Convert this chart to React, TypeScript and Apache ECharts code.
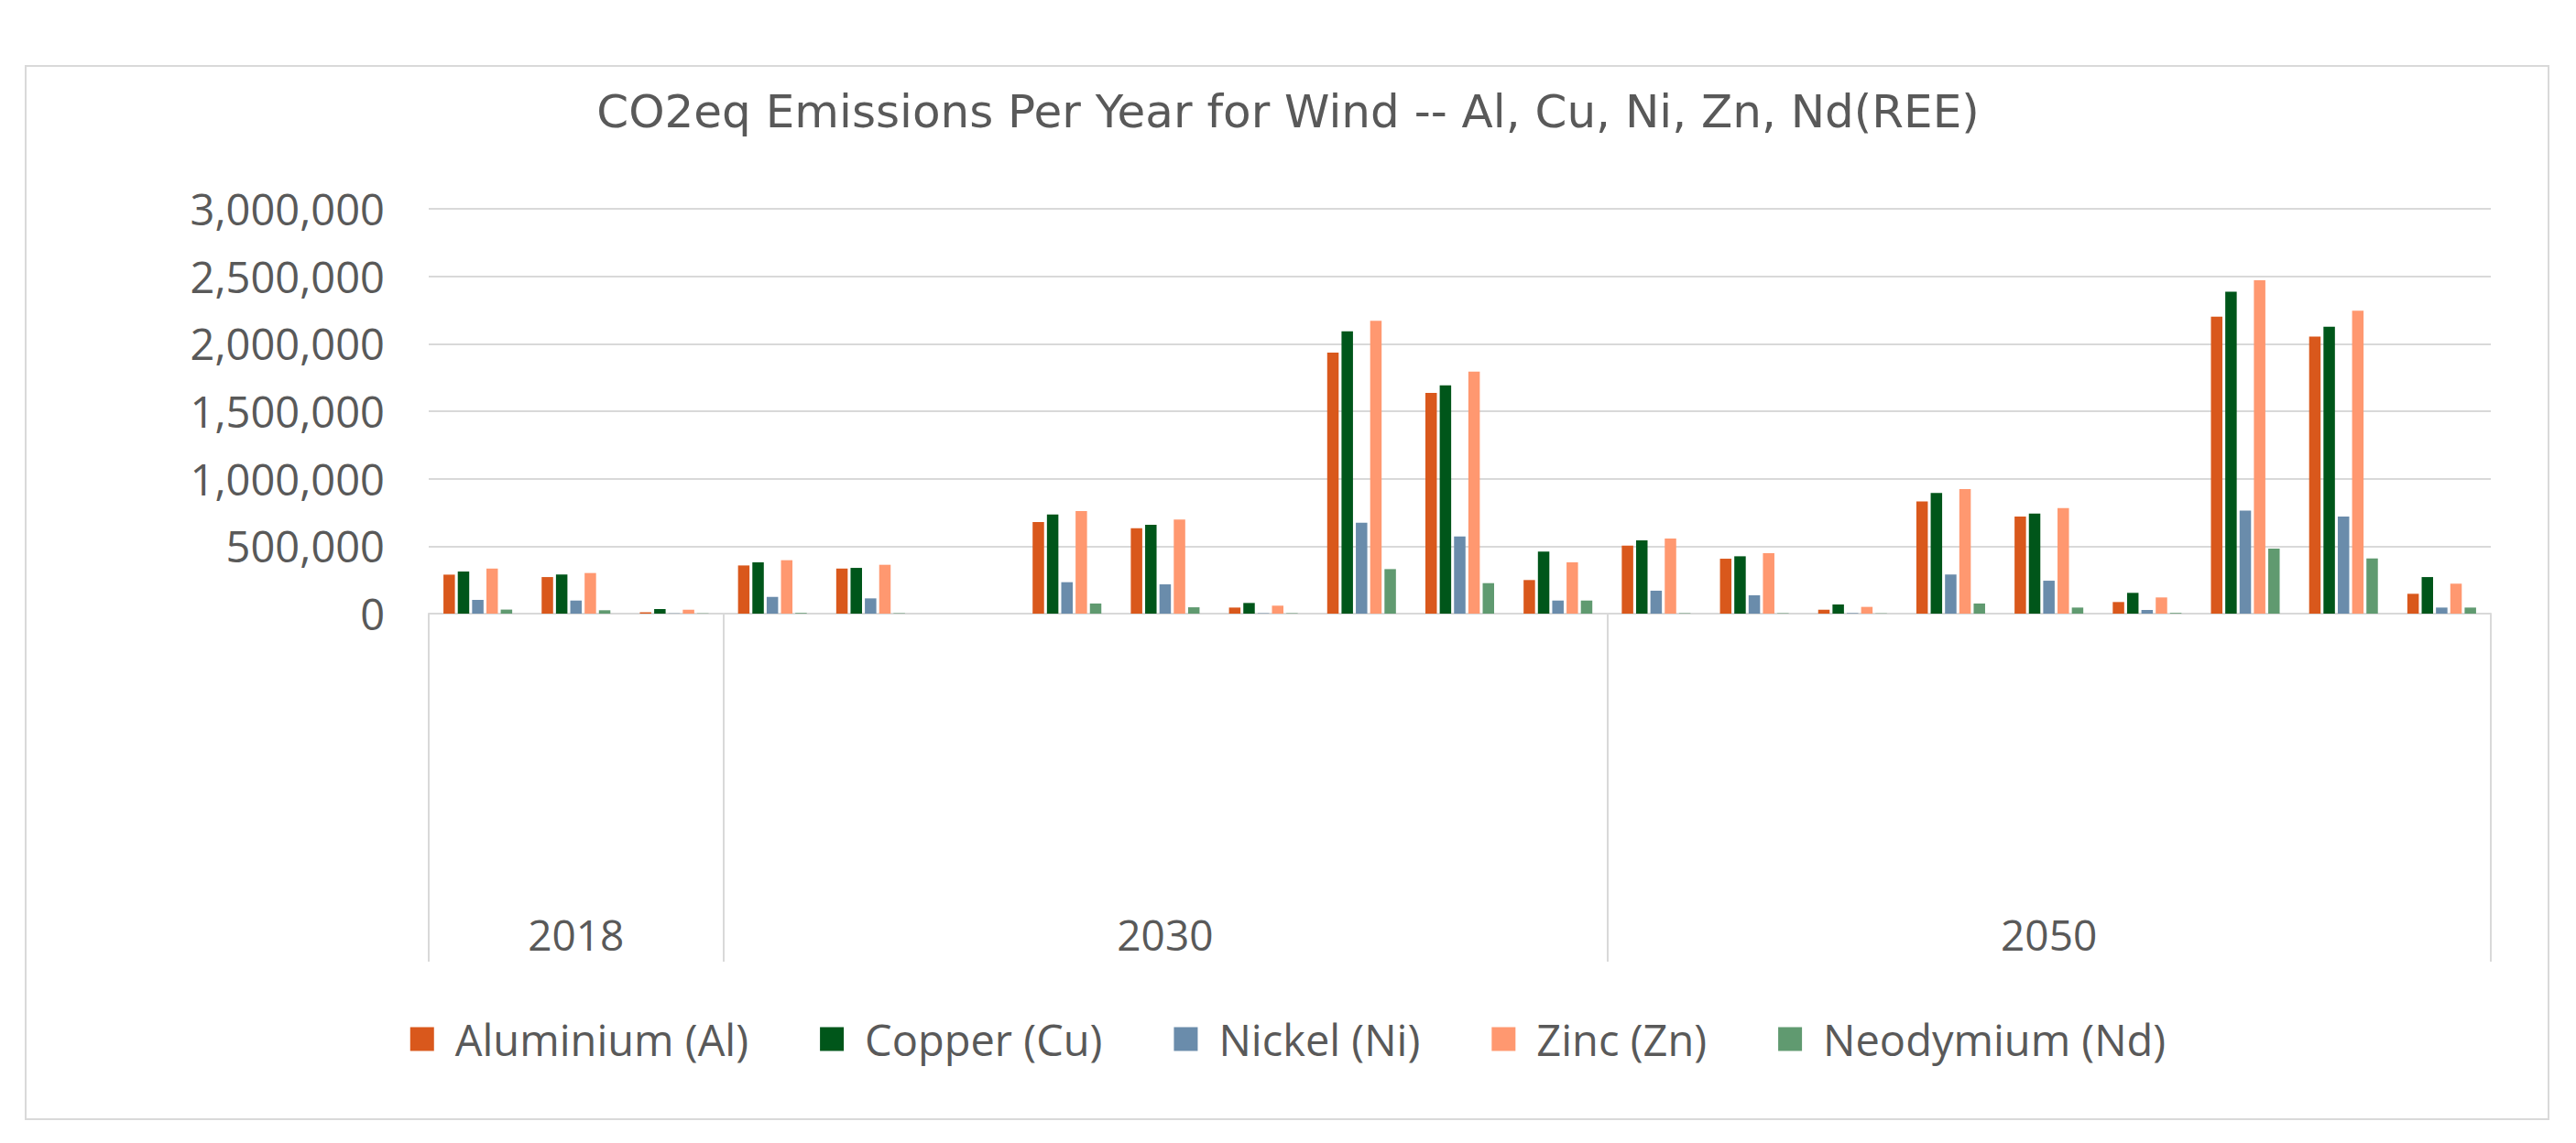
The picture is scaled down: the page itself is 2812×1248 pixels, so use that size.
import React, { useEffect, useRef } from "react";
import * as echarts from "echarts";

const titleText = "CO2eq Emissions Per Year for Wind -- Al, Cu, Ni, Zn, Nd(REE)";
const groupNames = ["2018", "2030", "2050"];
const groupSizes = [3, 9, 9];
const seriesNames = ["Aluminium (Al)", "Copper (Cu)", "Nickel (Ni)", "Zinc (Zn)", "Neodymium (Nd)"];
const seriesColors = ["#D9581C", "#00561A", "#6A8CAB", "#FF9870", "#609A70"];

const aluminium = [289000, 271000, 10000, 357000, 334000, 0, 678000, 633000, 45000, 1934000, 1635000, 249000, 504000, 407000, 29000, 832000, 719000, 86000, 2200000, 2053000, 147000];
const copper = [312000, 290000, 34000, 380000, 339000, 0, 735000, 658000, 79000, 2092000, 1692000, 459000, 543000, 425000, 68000, 895000, 742000, 154000, 2386000, 2126000, 271000];
const nickel = [102000, 97000, 2000, 124000, 113000, 0, 233000, 217000, 3000, 674000, 572000, 97000, 170000, 136000, 4000, 290000, 244000, 27000, 764000, 719000, 45000];
const zinc = [334000, 301000, 29000, 396000, 362000, 0, 760000, 697000, 59000, 2171000, 1793000, 380000, 556000, 448000, 50000, 923000, 782000, 120000, 2471000, 2245000, 222000];
const neodymium = [30000, 25000, 2000, 5000, 3000, 0, 75000, 47000, 3000, 330000, 226000, 97000, 3000, 3000, 2000, 75000, 45000, 5000, 482000, 409000, 45000];

const yMin = 0;
const yMax = 3000000;
const yInterval = 500000;

const TEXT = "#595959";
const GRID = "#d9d9d9";

export default function App() {
  const ref = useRef<HTMLDivElement>(null);
  useEffect(() => {
    document.body.style.margin = "0";
    const el = ref.current;
    if (!el) return;
    const chart = echarts.init(el, null, { renderer: "svg" });

    const categories: string[] = [];
    const tickIdx: number[] = [];
    const labelIdx: number[] = [];
    groupNames.forEach((g, gi) => {
      const start = categories.length;
      tickIdx.push(start);
      labelIdx.push(start + Math.floor(groupSizes[gi] / 2));
      for (let i = 0; i < groupSizes[gi]; i++) categories.push(g + "#" + i);
    });

    const allData = [aluminium, copper, nickel, zinc, neodymium];

    chart.setOption({
      animation: false,
      backgroundColor: "#ffffff",
      title: {
        text: titleText,
        left: "center",
        top: 92,
        textStyle: { fontFamily: "DejaVu Sans", fontSize: 50, fontWeight: "normal", color: TEXT },
      },
      legend: {
        data: seriesNames,
        left: "center",
        top: 1111,
        icon: "rect",
        itemWidth: 26,
        itemHeight: 26,
        itemGap: 78,
        padding: 0,
        textStyle: { fontFamily: "Open Sans", fontSize: 47, color: TEXT, padding: [0, 0, 0, 18] },
      },
      grid: { left: 468, right: 93, top: 228, bottom: 578, containLabel: false },
      xAxis: {
        type: "category",
        data: categories,
        boundaryGap: true,
        axisLine: { show: true, lineStyle: { color: GRID, width: 2 } },
        axisTick: {
          show: true,
          length: 380,
          interval: (idx: number) => tickIdx.includes(idx),
          lineStyle: { color: GRID, width: 2 },
        },
        axisLabel: {
          show: true,
          interval: (idx: number) => labelIdx.includes(idx),
          formatter: (v: string) => v.split("#")[0],
          margin: 327,
          fontFamily: "Open Sans",
          fontSize: 46,
          color: TEXT,
        },
        splitLine: { show: false },
      },
      yAxis: {
        type: "value",
        min: yMin,
        max: yMax,
        interval: yInterval,
        axisLine: { show: false },
        axisTick: { show: false },
        axisLabel: {
          margin: 48,
          fontFamily: "Open Sans",
          fontSize: 47,
          color: TEXT,
          formatter: (v: number) => v.toLocaleString("en-US"),
        },
        splitLine: { show: true, lineStyle: { color: GRID, width: 2 } },
      },
      series: seriesNames.map((name, i) => ({
        name,
        type: "bar",
        data: allData[i],
        barCategoryGap: "30%",
        barGap: "25%",
        itemStyle: { color: seriesColors[i] },
      })),
      graphic: [
        {
          type: "rect",
          shape: { x: 28, y: 72, width: 2754, height: 1150 },
          style: { fill: "none", stroke: "#d9d9d9", lineWidth: 2 },
          silent: true,
          z: -1,
        },
      ],
    });

    return () => chart.dispose();
  }, []);
  return <div ref={ref} style={{ width: 2812, height: 1248 }} />;
}
